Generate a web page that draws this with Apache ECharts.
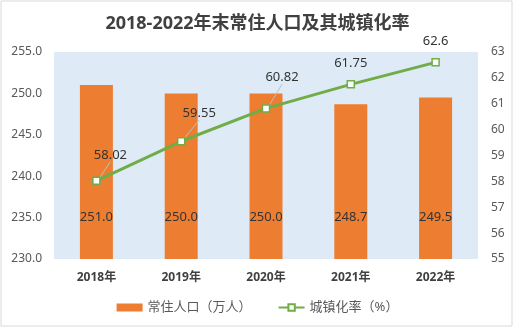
<!DOCTYPE html>
<html>
<head>
<meta charset="utf-8">
<script src="https://cdn.jsdelivr.net/npm/echarts@6/dist/echarts.min.js"></script>
<style>
html,body{margin:0;padding:0;background:#fff;}
#c{width:515px;height:328px;}
</style>
</head>
<body>
<div id="c"></div>
<script>
var titleText = '2018-2022年末常住人口及其城镇化率';
var categories = ['2018年', '2019年', '2020年', '2021年', '2022年'];
var population = [251.0, 250.0, 250.0, 248.7, 249.5];
var urbanRate = [58.02, 59.55, 60.82, 61.75, 62.6];
var popName = '常住人口（万人）';
var rateName = '城镇化率（%）';

var FONT = '"Noto Sans", "Noto Sans CJK SC", sans-serif';
var labelShift = [[14, -10], [18, -12], [16, -15], [0, -5], [0, -5]];

var chart = echarts.init(document.getElementById('c'), null, {renderer: 'canvas'});
chart.setOption({
  animation: false,
  backgroundColor: '#ffffff',
  textStyle: {fontFamily: FONT},
  title: {
    text: titleText,
    left: 'center',
    top: 10,
    textStyle: {fontSize: 18, fontWeight: 'bold', color: '#404040', fontFamily: FONT}
  },
  graphic: [{
    type: 'rect', z: -1, silent: true,
    shape: {x: 1, y: 1, width: 511, height: 325},
    style: {fill: 'none', stroke: '#d9d9d9', lineWidth: 1}
  }],
  grid: {
    left: 54, right: 37, top: 52, bottom: 69,
    show: true, backgroundColor: '#deebf7', borderWidth: 0
  },
  legend: {
    bottom: 9,
    left: 'center',
    itemGap: 26,
    textStyle: {fontSize: 13, color: '#595959', fontFamily: FONT},
    data: [
      {name: popName, icon: 'rect', itemStyle: {color: '#ed7d31'}},
      {name: rateName}
    ],
    itemWidth: 26, itemHeight: 8
  },
  xAxis: {
    type: 'category',
    data: categories,
    axisLine: {show: false},
    axisTick: {show: false},
    axisLabel: {fontSize: 12, fontWeight: 'bold', color: '#404040', margin: 13, fontFamily: FONT}
  },
  yAxis: [{
    type: 'value', min: 230, max: 255, interval: 5,
    splitLine: {show: false},
    axisLine: {show: false}, axisTick: {show: false},
    axisLabel: {fontSize: 12, color: '#595959', margin: 12,
      formatter: function (v) { return v.toFixed(1); }}
  }, {
    type: 'value', min: 55, max: 63, interval: 1,
    splitLine: {show: false},
    axisLine: {show: false}, axisTick: {show: false},
    axisLabel: {fontSize: 12, color: '#595959', margin: 13}
  }],
  series: [{
    name: popName,
    type: 'bar',
    data: population,
    barWidth: 33,
    itemStyle: {color: '#ed7d31'},
    label: {
      show: true, position: 'insideBottom', distance: 35,
      fontSize: 13, color: '#333333',
      formatter: function (p) { return p.value.toFixed(1); }
    }
  }, {
    name: rateName,
    type: 'line',
    yAxisIndex: 1,
    data: urbanRate.map(function (v, i) {
      return {value: v, labelLine: {show: i < 3}};
    }),
    symbol: 'rect',
    symbolSize: 7,
    lineStyle: {color: '#70ad47', width: 3},
    itemStyle: {color: '#ffffff', borderColor: '#70ad47', borderWidth: 1.5},
    label: {
      show: true, position: 'top', distance: 5,
      fontSize: 13, color: '#333333'
    },
    labelLine: {show: true, lineStyle: {color: '#bfbfbf', width: 1}},
    labelLayout: function (p) {
      var s = labelShift[p.dataIndex];
      return {dx: s[0], dy: s[1]};
    },
    z: 3
  }]
});
</script>
</body>
</html>
